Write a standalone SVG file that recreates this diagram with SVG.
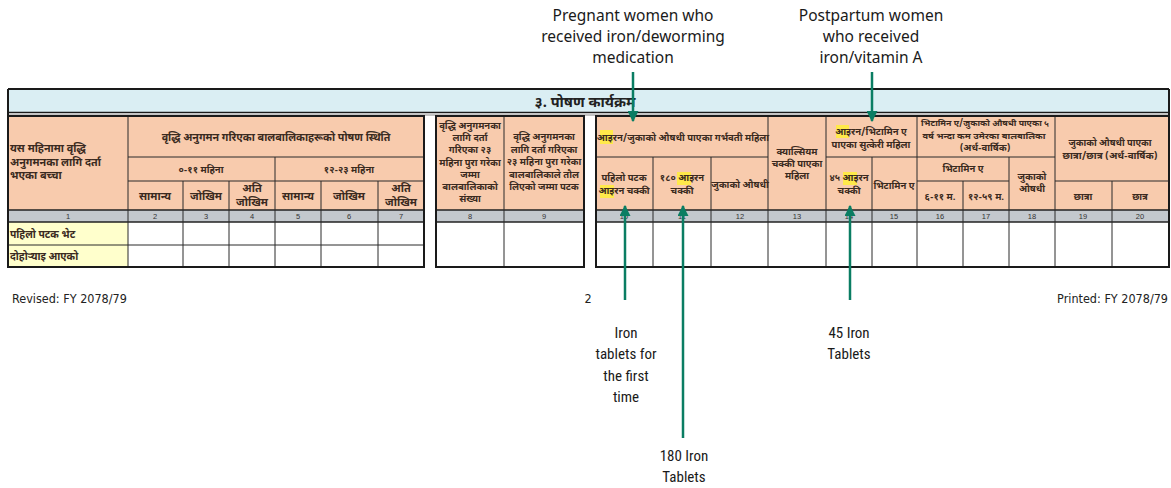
<svg xmlns="http://www.w3.org/2000/svg" width="1171" height="488" viewBox="0 0 1171 488">
<defs>
<marker id="ah" viewBox="0 0 10 10" refX="9" refY="5" markerWidth="11" markerHeight="11" markerUnits="userSpaceOnUse" orient="auto">
<path d="M0,0 L10,5 L0,10 z" fill="#0a7d63"/>
</marker>
<style>
.hd{fill:#f8cbad}
.num{fill:#c3c8cd}
.yl{fill:#ffffcc}
.g{stroke:#2a2a2a;stroke-width:1;fill:none}
.ob{stroke:#1a1a1a;stroke-width:2;fill:none}
.dv{font-family:"Noto Sans Devanagari","Noto Sans","Lohit Devanagari",sans-serif;font-weight:bold;fill:#3a2a20;text-anchor:middle}
.dl{text-anchor:start}
.nm{font-family:"Liberation Sans",sans-serif;font-size:7.5px;fill:#333;text-anchor:middle}
.lab{font-family:"Noto Sans","Open Sans",sans-serif;font-size:15.5px;fill:#1a1a1a;text-anchor:middle}
.blab{font-family:"Liberation Sans Narrow","Roboto Condensed","DejaVu Sans Condensed","Liberation Sans",sans-serif;font-stretch:condensed;font-size:15px;fill:#1a1a1a;text-anchor:middle}
.ft{font-family:"Liberation Sans Narrow","DejaVu Sans Condensed","Liberation Sans",sans-serif;font-stretch:condensed;font-size:12.5px;fill:#222}
.hl{fill:#ffe94a}
.con{stroke:#0a7d63;stroke-width:2.5;fill:none}
</style>
</defs>
<rect width="1171" height="488" fill="#ffffff"/>

<g id="title-band">
<rect x="8" y="89" width="1161" height="24" fill="#daeef3"/>
<line x1="8" y1="89" x2="1169" y2="89" class="ob"/>
<line x1="8" y1="112.5" x2="1169" y2="112.5" stroke="#1a1a1a" stroke-width="1.5"/>
<line x1="8" y1="115" x2="1169" y2="115" stroke="#888" stroke-width="1"/>
<line x1="8" y1="89" x2="8" y2="115" class="ob"/>
<line x1="1169" y1="89" x2="1169" y2="115" class="ob"/>
<text x="585" y="106.5" font-family="'Noto Sans Devanagari','Noto Sans',sans-serif" font-size="14.5" font-weight="bold" fill="#222" text-anchor="middle">३. पोषण कार्यक्रम</text>
</g>

<g id="table-growth" font-size="9.5">
<rect x="8" y="116" width="416" height="94" class="hd"/>
<rect x="8" y="210" width="416" height="12" class="num"/>
<rect x="8" y="222" width="120" height="45" class="yl"/>
<line x1="128" y1="157" x2="424" y2="157" class="g"/>
<line x1="128" y1="181" x2="424" y2="181" class="g"/>
<line x1="8" y1="210" x2="424" y2="210" stroke="#222" stroke-width="1.5"/>
<line x1="8" y1="222" x2="424" y2="222" stroke="#222" stroke-width="1.5"/>
<line x1="8" y1="245" x2="424" y2="245" class="g"/>
<line x1="128" y1="116" x2="128" y2="267" class="g"/>
<line x1="275" y1="157" x2="275" y2="267" class="g"/>
<line x1="183" y1="181" x2="183" y2="267" class="g"/>
<line x1="229" y1="181" x2="229" y2="267" class="g"/>
<line x1="321" y1="181" x2="321" y2="267" class="g"/>
<line x1="378" y1="181" x2="378" y2="267" class="g"/>
<rect x="8" y="116" width="416" height="151" class="ob"/>
<text class="dv dl" x="10" y="152" font-size="10.8">यस महिनामा वृद्धि</text>
<text class="dv dl" x="10" y="165.5" font-size="10.8">अनुगमनका लागि दर्ता</text>
<text class="dv dl" x="10" y="179" font-size="10.8">भएका बच्चा</text>
<text class="dv" x="276" y="141" font-size="10.7">वृद्धि अनुगमन गरिएका बालबालिकाहरूको पोषण स्थिति</text>
<text class="dv" x="201" y="173">०-११ महिना</text>
<text class="dv" x="349" y="173">१२-२३ महिना</text>
<text class="dv" x="155" y="199.5" font-size="11">सामान्य</text>
<text class="dv" x="206" y="199.5" font-size="11">जोखिम</text>
<text class="dv" x="252" y="192" font-size="11">अति</text>
<text class="dv" x="252" y="205.5" font-size="11">जोखिम</text>
<text class="dv" x="298" y="199.5" font-size="11">सामान्य</text>
<text class="dv" x="349" y="199.5" font-size="11">जोखिम</text>
<text class="dv" x="401" y="192" font-size="11">अति</text>
<text class="dv" x="401" y="205.5" font-size="11">जोखिम</text>
<text class="nm" x="68" y="219">1</text>
<text class="nm" x="155" y="219">2</text>
<text class="nm" x="206" y="219">3</text>
<text class="nm" x="252" y="219">4</text>
<text class="nm" x="298" y="219">5</text>
<text class="nm" x="349" y="219">6</text>
<text class="nm" x="401" y="219">7</text>
<text class="dv dl" x="10" y="237.5" font-size="10.3">पहिलो पटक भेट</text>
<text class="dv dl" x="10" y="260" font-size="10.3">दोहोर्‍याइ आएको</text>
</g>

<g id="table-weight" font-size="9.5">
<rect x="436" y="116" width="148" height="94" class="hd"/>
<rect x="436" y="210" width="148" height="12" class="num"/>
<line x1="436" y1="210" x2="584" y2="210" stroke="#222" stroke-width="1.5"/>
<line x1="436" y1="222" x2="584" y2="222" stroke="#222" stroke-width="1.5"/>
<line x1="504" y1="116" x2="504" y2="267" class="g"/>
<rect x="436" y="116" width="148" height="151" class="ob"/>
<text class="dv" x="470" y="129">वृद्धि अनुगमनका</text>
<text class="dv" x="470" y="141">लागि दर्ता</text>
<text class="dv" x="470" y="153">गरिएका २३</text>
<text class="dv" x="470" y="166">महिना पुरा गरेका</text>
<text class="dv" x="470" y="178">जम्मा</text>
<text class="dv" x="470" y="190">बालबालिकाको</text>
<text class="dv" x="470" y="202">संख्या</text>
<text class="dv" x="544" y="140">वृद्धि अनुगमनका</text>
<text class="dv" x="544" y="153">लागि दर्ता गरिएका</text>
<text class="dv" x="544" y="165">२३ महिना पुरा गरेका</text>
<text class="dv" x="544" y="178">बालबालिकाले तौल</text>
<text class="dv" x="544" y="190">लिएको जम्मा पटक</text>
<text class="nm" x="470" y="219">8</text>
<text class="nm" x="544" y="219">9</text>
</g>

<g id="table-supplements" font-size="9.5">
<rect x="596" y="116" width="573" height="94" class="hd"/>
<rect x="596" y="210" width="573" height="12" class="num"/>
<line x1="596" y1="210" x2="1169" y2="210" stroke="#222" stroke-width="1.5"/>
<line x1="596" y1="222" x2="1169" y2="222" stroke="#222" stroke-width="1.5"/>
<line x1="596" y1="157" x2="768" y2="157" class="g"/>
<line x1="826" y1="157" x2="1055" y2="157" class="g"/>
<line x1="917" y1="181" x2="1009" y2="181" class="g"/>
<line x1="1055" y1="181" x2="1169" y2="181" class="g"/>
<line x1="653" y1="157" x2="653" y2="267" class="g"/>
<line x1="711" y1="157" x2="711" y2="267" class="g"/>
<line x1="768" y1="116" x2="768" y2="267" class="g"/>
<line x1="826" y1="116" x2="826" y2="267" class="g"/>
<line x1="872" y1="157" x2="872" y2="267" class="g"/>
<line x1="917" y1="116" x2="917" y2="267" class="g"/>
<line x1="963" y1="181" x2="963" y2="267" class="g"/>
<line x1="1009" y1="157" x2="1009" y2="267" class="g"/>
<line x1="1055" y1="116" x2="1055" y2="267" class="g"/>
<line x1="1112" y1="181" x2="1112" y2="267" class="g"/>
<rect x="596" y="116" width="573" height="151" class="ob"/>
<rect class="hl" x="600" y="130" width="13" height="14"/>
<rect class="hl" x="600" y="185" width="14" height="13"/>
<rect class="hl" x="677" y="172" width="14" height="13"/>
<rect class="hl" x="843" y="172" width="14" height="13"/>
<rect class="hl" x="836" y="125" width="13" height="13"/>
<text class="dv" x="683" y="141">आइरन/जुकाको औषधी पाएका गर्भवती महिला</text>
<text class="dv" x="797" y="155">क्याल्सियम</text>
<text class="dv" x="797" y="167">चक्की पाएका</text>
<text class="dv" x="797" y="179">महिला</text>
<text class="dv" x="624" y="181">पहिलो पटक</text>
<text class="dv" x="624" y="194">आइरन चक्की</text>
<text class="dv" x="682" y="181">१८० आइरन</text>
<text class="dv" x="682" y="194">चक्की</text>
<text class="dv" x="740" y="188">जुकाको औषधी</text>
<text class="dv" x="871" y="135">आइरन/भिटामिन ए</text>
<text class="dv" x="871" y="148">पाएका सुत्केरी महिला</text>
<text class="dv" x="849" y="181">४५ आइरन</text>
<text class="dv" x="849" y="194">चक्की</text>
<text class="dv" x="894" y="189">भिटामिन ए</text>
<text class="dv" x="985" y="126" font-size="8.5" textLength="128" lengthAdjust="spacingAndGlyphs">भिटामिन ए/जुकाको औषधी पाएका ५</text>
<text class="dv" x="984" y="138.5" font-size="8.5" textLength="123" lengthAdjust="spacingAndGlyphs">वर्ष भन्दा कम उमेरका बालबालिका</text>
<text class="dv" x="985" y="151">(अर्ध-वार्षिक)</text>
<text class="dv" x="963" y="172">भिटामिन ए</text>
<text class="dv" x="1032" y="180">जुकाको</text>
<text class="dv" x="1032" y="192">औषधी</text>
<text class="dv" x="940" y="200">६-११ म.</text>
<text class="dv" x="986" y="200">१२-५९ म.</text>
<text class="dv" x="1110" y="146" textLength="83" lengthAdjust="spacingAndGlyphs">जुकाको औषधी पाएका</text>
<text class="dv" x="1110" y="158.5" textLength="95" lengthAdjust="spacingAndGlyphs">छात्रा/छात्र (अर्ध-वार्षिक)</text>
<text class="dv" x="1083" y="200">छात्रा</text>
<text class="dv" x="1140" y="200">छात्र</text>
<text class="nm" x="624" y="219">10</text>
<text class="nm" x="682" y="219">11</text>
<text class="nm" x="740" y="219">12</text>
<text class="nm" x="797" y="219">13</text>
<text class="nm" x="849" y="219">14</text>
<text class="nm" x="894" y="219">15</text>
<text class="nm" x="940" y="219">16</text>
<text class="nm" x="986" y="219">17</text>
<text class="nm" x="1032" y="219">18</text>
<text class="nm" x="1083" y="219">19</text>
<text class="nm" x="1140" y="219">20</text>
</g>

<g id="footer">
<text class="ft" x="12" y="303">Revised: FY 2078/79</text>
<text class="ft" x="588" y="303" text-anchor="middle">2</text>
<text class="ft" x="1168" y="303" text-anchor="end">Printed: FY 2078/79</text>
</g>

<g id="label-pregnant">
<text class="lab" x="633" y="21">Pregnant women who</text>
<text class="lab" x="633" y="42">received iron/deworming</text>
<text class="lab" x="633" y="63">medication</text>
</g>
<g id="label-postpartum">
<text class="lab" x="871" y="21">Postpartum women</text>
<text class="lab" x="871" y="42">who received</text>
<text class="lab" x="871" y="63">iron/vitamin A</text>
</g>
<g id="label-first-time">
<text class="blab" x="626" y="338">Iron</text>
<text class="blab" x="626" y="359">tablets for</text>
<text class="blab" x="626" y="381">the first</text>
<text class="blab" x="626" y="402">time</text>
</g>
<g id="label-180">
<text class="blab" x="684" y="461">180 Iron</text>
<text class="blab" x="684" y="482">Tablets</text>
</g>
<g id="label-45">
<text class="blab" x="849" y="338">45 Iron</text>
<text class="blab" x="849" y="359">Tablets</text>
</g>

<g id="connectors">
<line class="con" x1="633" y1="72" x2="633" y2="121" marker-end="url(#ah)"/>
<line class="con" x1="872" y1="72" x2="872" y2="121" marker-end="url(#ah)"/>
<line class="con" x1="625" y1="300" x2="625" y2="206" marker-end="url(#ah)"/>
<line class="con" x1="683" y1="438" x2="683" y2="206" marker-end="url(#ah)"/>
<line class="con" x1="850" y1="300" x2="850" y2="206" marker-end="url(#ah)"/>
</g>
</svg>
